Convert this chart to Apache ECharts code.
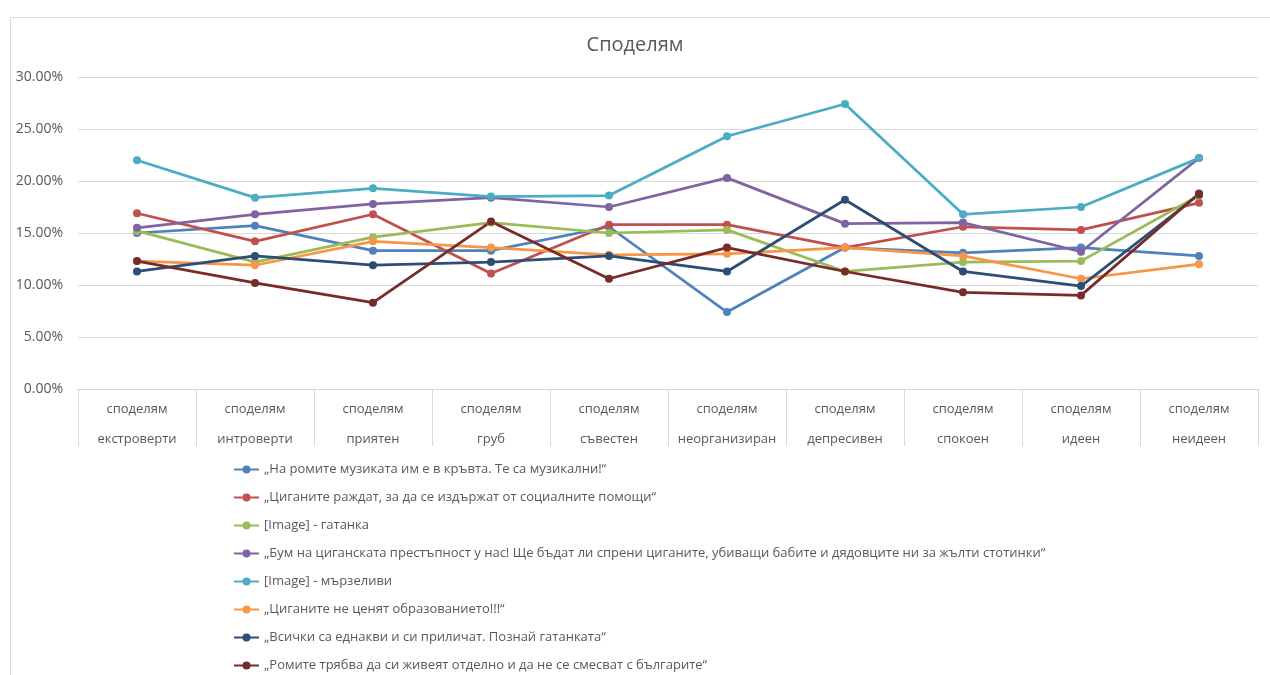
<!DOCTYPE html>
<html>
<head>
<meta charset="utf-8">
<title>Споделям</title>
<script src="https://cdn.jsdelivr.net/npm/echarts@6/dist/echarts.min.js"></script>
<style>
  html, body { margin: 0; padding: 0; background: #ffffff; }
  #chart { width: 1270px; height: 675px; }
</style>
</head>
<body>
<div id="chart"></div>
<script>
// Category labels (two lines each)
const categories = [
  'споделям\nекстроверти',
  'споделям\nинтроверти',
  'споделям\nприятен',
  'споделям\nгруб',
  'споделям\nсъвестен',
  'споделям\nнеорганизиран',
  'споделям\nдепресивен',
  'споделям\nспокоен',
  'споделям\nидеен',
  'споделям\nнеидеен'
];

// Series names
const seriesNames = [
  '„На ромите музиката им е в кръвта. Те са музикални!“',
  '„Циганите раждат, за да се издържат от социалните помощи“',
  '[Image] - гатанка',
  '„Бум на циганската престъпност у нас! Ще бъдат ли спрени циганите, убиващи бабите и дядовците ни за жълти стотинки“',
  '[Image] - мързеливи',
  '„Циганите не ценят образованието!!!“',
  '„Всички са еднакви и си приличат. Познай гатанката“',
  '„Ромите трябва да си живеят отделно и да не се смесват с българите“'
];

// Percentages per category, one array per series
const muzikalni   = [15.0, 15.7, 13.3, 13.3, 15.6,  7.4, 13.6, 13.1, 13.6, 12.8];
const pomoshti    = [16.9, 14.2, 16.8, 11.1, 15.8, 15.8, 13.6, 15.6, 15.3, 17.9];
const gatanka     = [15.2, 12.2, 14.6, 16.0, 15.0, 15.3, 11.3, 12.2, 12.3, 18.6];
const prestapnost = [15.5, 16.8, 17.8, 18.4, 17.5, 20.3, 15.9, 16.0, 13.2, 22.2];
const marzelivi   = [22.0, 18.4, 19.3, 18.5, 18.6, 24.3, 27.4, 16.8, 17.5, 22.2];
const obrazovanie = [12.3, 11.9, 14.2, 13.6, 12.9, 13.0, 13.6, 12.8, 10.6, 12.0];
const ednakvi     = [11.3, 12.8, 11.9, 12.2, 12.8, 11.3, 18.2, 11.3,  9.9, 18.7];
const otdelno     = [12.3, 10.2,  8.3, 16.1, 10.6, 13.6, 11.3,  9.3,  9.0, 18.8];

// Y axis range and step (percent)
const yMin = 0;
const yMax = 30;
const yStep = 5;

const seriesData = [muzikalni, pomoshti, gatanka, prestapnost, marzelivi, obrazovanie, ednakvi, otdelno];
const colors = ['#4F81BD', '#C0504D', '#9BBB59', '#8064A2', '#4BACC6', '#F79646', '#2C4D75', '#772C2A'];

const FONT = '"Open Sans", "Noto Sans", sans-serif';
const TEXT = '#595959';
const GRID = '#d9d9d9';

const chart = echarts.init(document.getElementById('chart'), null, { renderer: 'canvas' });

chart.setOption({
  animation: false,
  backgroundColor: '#ffffff',
  color: colors,
  textStyle: { fontFamily: FONT },
  graphic: [{
    type: 'rect',
    left: 8, top: 15,
    shape: { width: 1300, height: 700 },
    style: { fill: 'none', stroke: GRID, lineWidth: 1 },
    silent: true,
    z: -10
  }],
  title: {
    text: 'Споделям',
    left: 'center',
    top: 30,
    textStyle: { fontFamily: FONT, fontSize: 20, fontWeight: 'normal', color: TEXT }
  },
  grid: { left: 78, right: 12, top: 77, bottom: 286, containLabel: false },
  legend: {
    orient: 'vertical',
    left: 228,
    top: 458,
    height: 320,
    itemWidth: 25,
    itemHeight: 10,
    itemGap: 15,
    textStyle: { fontFamily: FONT, fontSize: 13, color: TEXT },
    data: seriesNames
  },
  xAxis: {
    type: 'category',
    data: categories,
    boundaryGap: true,
    axisLine: { lineStyle: { color: GRID, width: 1 } },
    axisTick: { show: true, interval: 0, length: 57, lineStyle: { color: GRID } },
    axisLabel: {
      interval: 0,
      margin: 5,
      lineHeight: 30,
      fontFamily: FONT,
      fontSize: 13,
      color: TEXT
    },
    splitLine: { show: false }
  },
  yAxis: {
    type: 'value',
    min: yMin,
    max: yMax,
    interval: yStep,
    axisLine: { show: false },
    axisTick: { show: false },
    axisLabel: {
      margin: 15,
      fontFamily: FONT,
      fontSize: 14,
      color: TEXT,
      formatter: v => v.toFixed(2) + '%'
    },
    splitLine: { lineStyle: { color: GRID, width: 1 } }
  },
  series: seriesNames.map((name, i) => ({
    name: name,
    type: 'line',
    data: seriesData[i],
    symbol: 'circle',
    symbolSize: 8,
    lineStyle: { width: 2.75, color: colors[i] },
    itemStyle: { color: colors[i] },
    emphasis: { disabled: true }
  }))
});
</script>
</body>
</html>
